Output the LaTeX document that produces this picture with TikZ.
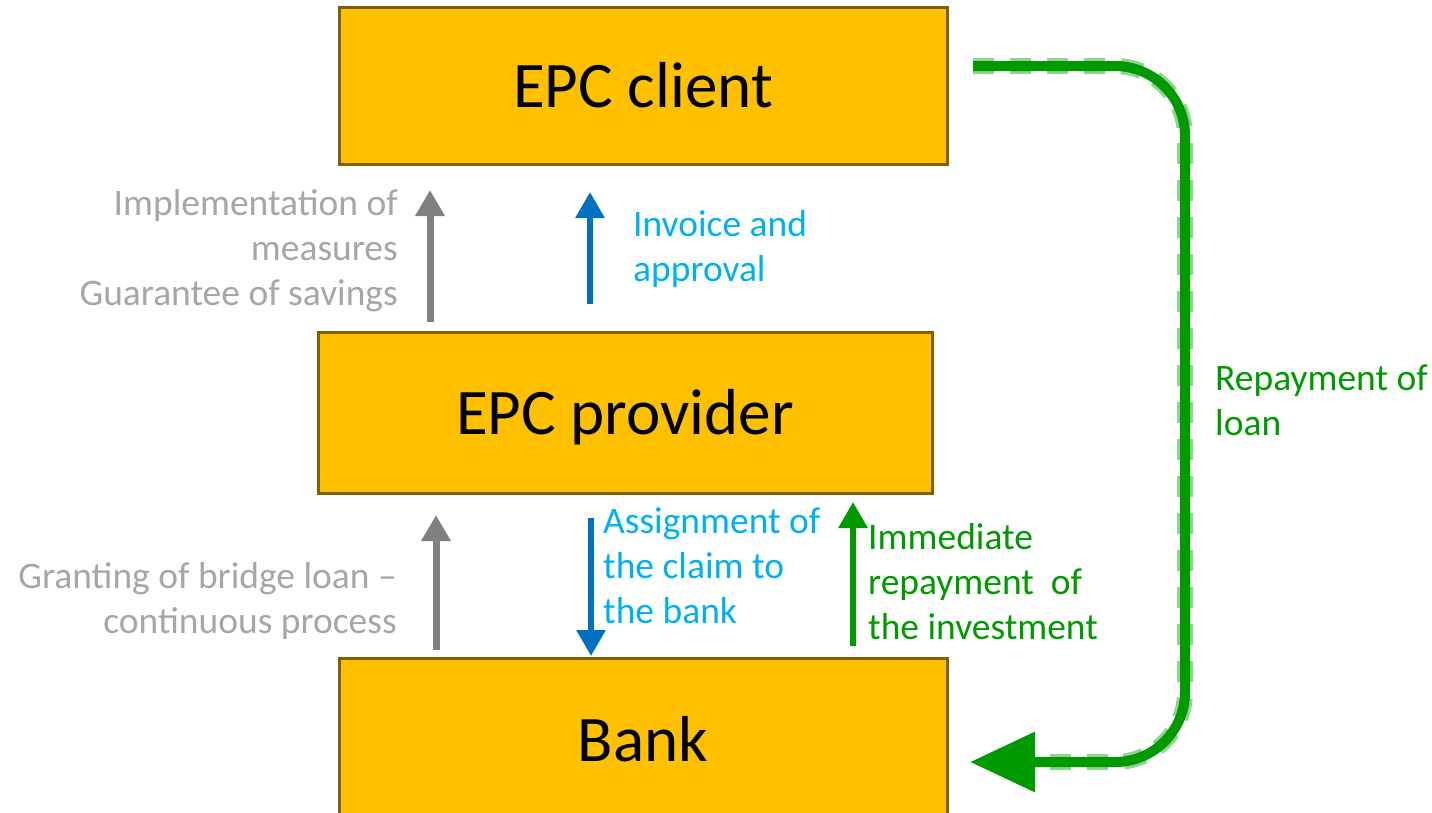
\documentclass[tikz,border=0pt]{standalone}
\usepackage{fontspec}
\setmainfont{Carlito}
\usetikzlibrary{arrows.meta}
\definecolor{boxfill}{HTML}{FFC000}
\definecolor{boxline}{HTML}{7F6000}
\definecolor{grayarrow}{HTML}{808080}
\definecolor{graytext}{HTML}{A6A6A6}
\definecolor{bluearrow}{HTML}{0070C0}
\definecolor{bluetext}{HTML}{00B0F0}
\definecolor{greenmain}{HTML}{009A00}
\definecolor{greenlight}{HTML}{8FD48F}
\begin{document}
\begin{tikzpicture}[x=1pt,y=-1pt,
  party/.style={draw=boxline,fill=boxfill,line width=3pt},
  partytext/.style={inner sep=0pt,font=\fontsize{65}{72}\selectfont},
  lbl/.style={inner sep=0pt,font=\fontsize{37.5}{45}\selectfont},
  grayflow/.style={draw=grayarrow,line width=7pt,-{Triangle[length=26pt,width=28pt]}},
  blueflow/.style={draw=bluearrow,line width=6pt,-{Triangle[length=26pt,width=28pt]}},
  greenflow/.style={draw=greenmain,line width=6pt,-{Triangle[length=26pt,width=28pt]}}]
\useasboundingbox (0,0) rectangle (1432,812);
% boxes
\draw[party] (339,7) rectangle (947,164);
\node[partytext,anchor=base] (client) at (643,107) {EPC client};
\draw[party] (318,332) rectangle (932,493);
\node[partytext,anchor=base] (provider) at (625,434) {EPC provider};
\draw[party] (339,658) rectangle (947,830);
\node[partytext,anchor=base] (bank) at (643,761) {Bank};
% arrows
\coordinate (g1s) at (430,322); \coordinate (g1e) at (430,190);
\draw[grayflow] (g1s) -- (g1e);
\coordinate (b1s) at (590,304); \coordinate (b1e) at (590,192);
\draw[blueflow] (b1s) -- (b1e);
\coordinate (g2s) at (436,650); \coordinate (g2e) at (436,515);
\draw[grayflow] (g2s) -- (g2e);
\coordinate (b2s) at (591,518); \coordinate (b2e) at (591,656);
\draw[blueflow] (b2s) -- (b2e);
\coordinate (gr1s) at (853,646); \coordinate (gr1e) at (853,502);
\draw[greenflow] (gr1s) -- (gr1e);
% green repayment loop
\coordinate (ls) at (973,66); \coordinate (lc1) at (1185,66);
\coordinate (lc2) at (1185,762); \coordinate (le) at (970,762);
\coordinate (lo) at (1030,762);
\draw[greenlight,line width=16pt,dash pattern=on 21pt off 16pt,rounded corners=70pt]
  (ls) -- (lc1) -- (lc2) -- (lo);
\draw[greenmain,line width=10pt,rounded corners=70pt,-{Triangle[length=65pt,width=58pt]}]
  (ls) -- (lc1) -- (lc2) -- (le);
% labels (anchor = baseline of the last line)
\node[lbl,text=graytext,align=right,anchor=base east] (t1) at (398,305)
  {Implementation of\\measures\\Guarantee of savings};
\node[lbl,text=bluetext,align=left,anchor=base west] (t2) at (633,281)
  {Invoice and\\approval};
\node[lbl,text=graytext,align=right,anchor=base east] (t3) at (397,633)
  {Granting of bridge loan –\\continuous process};
\node[lbl,text=bluetext,align=left,anchor=base west] (t4) at (603,623)
  {Assignment of\\the claim to\\the bank};
\node[lbl,text=greenmain,align=left,anchor=base west] (t5) at (868,639)
  {Immediate\\repayment\ \ of\\the investment};
\node[lbl,text=greenmain,align=left,anchor=base west] (t6) at (1215,435)
  {Repayment of\\loan};
\end{tikzpicture}
\end{document}
